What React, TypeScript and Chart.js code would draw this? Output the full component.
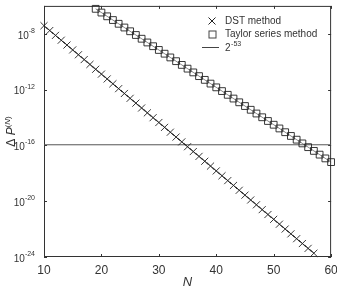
import React, { useEffect, useRef } from 'react';
import { Chart, registerables } from 'chart.js';

Chart.register(...registerables);

const N_DST = [10, 11, 12, 13, 14, 15, 16, 17, 18, 19, 20, 21, 22, 23, 24, 25, 26, 27, 28, 29, 30, 31, 32, 33, 34, 35, 36, 37, 38, 39, 40, 41, 42, 43, 44, 45, 46, 47, 48, 49, 50, 51, 52, 53, 54, 55, 56, 57];
const DST = [3.8e-8, 1.71e-8, 7.69e-9, 3.46e-9, 1.56e-9, 7.0e-10, 3.15e-10, 1.42e-10, 6.37e-11, 2.86e-11, 1.29e-11, 5.79e-12, 2.61e-12, 1.17e-12, 5.27e-13, 2.37e-13, 1.07e-13, 4.8e-14, 2.16e-14, 9.7e-15, 4.37e-15, 1.96e-15, 8.83e-16, 3.97e-16, 1.79e-16, 8.04e-17, 3.61e-17, 1.63e-17, 7.31e-18, 3.29e-18, 1.48e-18, 6.65e-19, 2.99e-19, 1.35e-19, 6.05e-20, 2.72e-20, 1.22e-20, 5.51e-21, 2.48e-21, 1.11e-21, 5.01e-22, 2.25e-22, 1.01e-22, 4.56e-23, 2.05e-23, 9.23e-24, 4.15e-24, 1.87e-24];
const N_TAYLOR = [19, 20, 21, 22, 23, 24, 25, 26, 27, 28, 29, 30, 31, 32, 33, 34, 35, 36, 37, 38, 39, 40, 41, 42, 43, 44, 45, 46, 47, 48, 49, 50, 51, 52, 53, 54, 55, 56, 57, 58, 59, 60];
const TAYLOR = [6.17e-7, 3.33e-7, 1.79e-7, 9.68e-8, 5.22e-8, 2.82e-8, 1.52e-8, 8.2e-9, 4.43e-9, 2.39e-9, 1.29e-9, 6.95e-10, 3.75e-10, 2.02e-10, 1.09e-10, 5.89e-11, 3.18e-11, 1.71e-11, 9.25e-12, 4.99e-12, 2.69e-12, 1.45e-12, 7.83e-13, 4.23e-13, 2.28e-13, 1.23e-13, 6.64e-14, 3.58e-14, 1.93e-14, 1.04e-14, 5.62e-15, 3.03e-15, 1.64e-15, 8.83e-16, 4.76e-16, 2.57e-16, 1.39e-16, 7.48e-17, 4.04e-17, 2.18e-17, 1.17e-17, 6.34e-18];
const EPS_X = [10, 60];
const EPS = [1.1102e-16, 1.1102e-16];
const X_TICKS = [10, 20, 30, 40, 50, 60];
const Y_TICK_EXP = [-24, -20, -16, -12, -8];
const Y_MIN = 1e-24;
const Y_MAX = 1e-6;
const LABELS = ['DST method', 'Taylor series method', '2'];
const EPS_EXP = '-53';

const INK = '#222';
const TEXT = '#333';
const FONT = '"Liberation Sans", Arial, Helvetica, sans-serif';

const decorPlugin = {
  id: 'decor',
  beforeDatasetsDraw(chart: any) {
    const { ctx, chartArea: a, scales } = chart;
    const x = scales.x;
    const y = scales.y;
    ctx.save();
    ctx.strokeStyle = '#333';
    ctx.lineWidth = 1;
    ctx.strokeRect(a.left + 0.5, a.top + 0.5, a.right - a.left - 1, a.bottom - a.top - 1);
    const tl = 3;
    ctx.beginPath();
    X_TICKS.forEach((v) => {
      const px = Math.round(x.getPixelForValue(v)) + 0.5;
      ctx.moveTo(px, a.bottom);
      ctx.lineTo(px, a.bottom - tl);
      ctx.moveTo(px, a.top);
      ctx.lineTo(px, a.top + tl);
    });
    Y_TICK_EXP.forEach((e) => {
      const py = Math.round(y.getPixelForValue(Math.pow(10, e))) + 0.5;
      ctx.moveTo(a.left, py);
      ctx.lineTo(a.left + tl, py);
      ctx.moveTo(a.right, py);
      ctx.lineTo(a.right - tl, py);
    });
    ctx.stroke();
    ctx.restore();
  },
  afterDraw(chart: any) {
    const { ctx, chartArea: a, scales } = chart;
    const x = scales.x;
    const y = scales.y;
    ctx.save();
    ctx.fillStyle = TEXT;
    // x tick labels
    ctx.font = `12px ${FONT}`;
    ctx.textAlign = 'center';
    ctx.textBaseline = 'middle';
    X_TICKS.forEach((v) => {
      ctx.fillText(String(v), x.getPixelForValue(v), a.bottom + 14);
    });
    // y tick labels 10^e
    Y_TICK_EXP.forEach((e) => {
      const py = y.getPixelForValue(Math.pow(10, e));
      ctx.font = `7px ${FONT}`;
      ctx.textAlign = 'left';
      ctx.textBaseline = 'middle';
      const expStr = String(e);
      const ew = ctx.measureText(expStr).width;
      const expX = a.left - 9 - ew;
      ctx.fillText(expStr, expX, py - 3);
      ctx.font = `10px ${FONT}`;
      ctx.textAlign = 'right';
      ctx.fillText('10', expX, py + 2);
    });
    // x title
    ctx.font = `italic 13px ${FONT}`;
    ctx.textAlign = 'center';
    ctx.textBaseline = 'middle';
    ctx.fillText('N', (a.left + a.right) / 2 - 0, 282);
    // y title
    ctx.save();
    ctx.translate(11, (a.top + a.bottom) / 2);
    ctx.rotate(-Math.PI / 2);
    ctx.textBaseline = 'alphabetic';
    ctx.textAlign = 'left';
    const parts = [
      { t: '\u0394 ', f: `12px ${FONT}`, dy: 0 },
      { t: 'P', f: `italic 12px ${FONT}`, dy: 0 },
      { t: '(', f: `8px ${FONT}`, dy: -5 },
      { t: 'N', f: `italic 8px ${FONT}`, dy: -5 },
      { t: ')', f: `8px ${FONT}`, dy: -5 },
    ];
    let total = 0;
    parts.forEach((p) => { ctx.font = p.f; total += ctx.measureText(p.t).width; });
    let cx = -total / 2;
    parts.forEach((p) => {
      ctx.font = p.f;
      ctx.fillText(p.t, cx, 4 + p.dy);
      cx += ctx.measureText(p.t).width;
    });
    ctx.restore();
    // legend
    const lx = 212;
    const tx = 225;
    const rows = [21, 34, 47];
    ctx.strokeStyle = INK;
    ctx.lineWidth = 1;
    // cross
    ctx.beginPath();
    ctx.moveTo(lx - 3.5, rows[0] - 3.5);
    ctx.lineTo(lx + 3.5, rows[0] + 3.5);
    ctx.moveTo(lx + 3.5, rows[0] - 3.5);
    ctx.lineTo(lx - 3.5, rows[0] + 3.5);
    ctx.stroke();
    ctx.strokeStyle = '#444';
    ctx.strokeRect(lx - 3.5 + 0.5, rows[1] - 3.5 + 0.5, 7, 7);
    ctx.strokeStyle = '#444';
    ctx.beginPath();
    ctx.moveTo(202, rows[2] + 0.5);
    ctx.lineTo(219, rows[2] + 0.5);
    ctx.stroke();
    ctx.font = `10px ${FONT}`;
    ctx.textAlign = 'left';
    ctx.textBaseline = 'middle';
    ctx.fillStyle = TEXT;
    ctx.fillText(LABELS[0], tx, rows[0]);
    ctx.fillText(LABELS[1], tx, rows[1]);
    ctx.fillText(LABELS[2], tx, rows[2] + 1);
    const w2 = ctx.measureText(LABELS[2]).width;
    ctx.font = `7px ${FONT}`;
    ctx.fillText(EPS_EXP, tx + w2 + 0.5, rows[2] - 3);
    ctx.restore();
  },
};

export default function App() {
  const ref = useRef<HTMLCanvasElement | null>(null);
  useEffect(() => {
    document.body.style.margin = '0';
    const canvas = ref.current;
    if (!canvas) return;
    const chart = new Chart(canvas, {
      type: 'line',
      data: {
        datasets: [
          {
            label: LABELS[0],
            data: N_DST.map((n, i) => ({ x: n, y: DST[i] })),
            borderColor: INK,
            borderWidth: 0.8,
            pointStyle: 'crossRot',
            pointRadius: 5,
            pointBorderColor: INK,
            pointBorderWidth: 0.9,
            backgroundColor: 'transparent',
            clip: false as any,
          },
          {
            label: LABELS[1],
            data: N_TAYLOR.map((n, i) => ({ x: n, y: TAYLOR[i] })),
            borderColor: '#333',
            borderWidth: 0.6,
            pointStyle: 'rect',
            pointRadius: 4.8,
            pointBorderColor: INK,
            pointBorderWidth: 0.9,
            pointBackgroundColor: 'transparent',
            backgroundColor: 'transparent',
            clip: false as any,
          },
          {
            label: LABELS[2] + EPS_EXP,
            data: EPS_X.map((n, i) => ({ x: n, y: EPS[i] })),
            borderColor: '#555',
            borderWidth: 1,
            pointRadius: 0,
            backgroundColor: 'transparent',
          },
        ],
      },
      options: {
        animation: false,
        responsive: true,
        maintainAspectRatio: false,
        layout: { padding: { left: 44, right: 5, top: 2, bottom: 31 } },
        plugins: { legend: { display: false }, tooltip: { enabled: false } },
        events: [],
        scales: {
          x: { type: 'linear', min: 10, max: 60, display: false },
          y: { type: 'logarithmic', min: Y_MIN, max: Y_MAX, display: false },
        },
      },
      plugins: [decorPlugin],
    } as any);
    return () => chart.destroy();
  }, []);
  return (
    <div style={{ position: 'relative', width: 337, height: 288 }}>
      <canvas ref={ref} />
    </div>
  );
}
